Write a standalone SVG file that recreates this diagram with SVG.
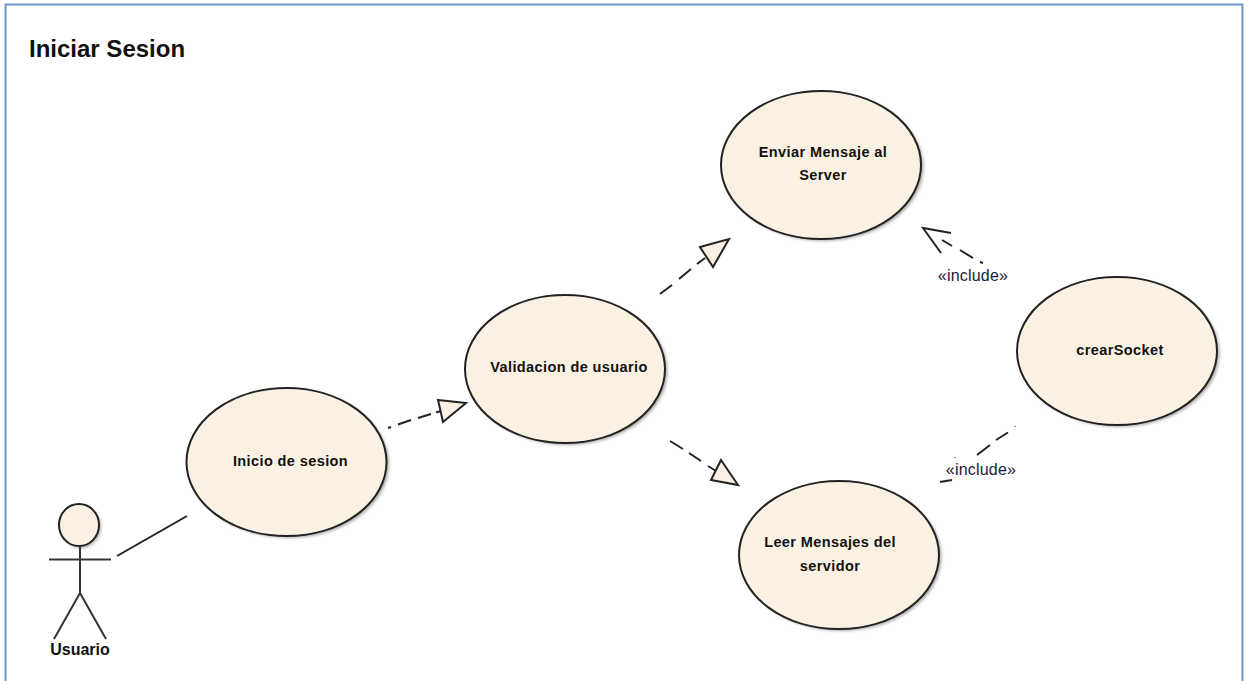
<svg xmlns="http://www.w3.org/2000/svg" width="1248" height="681" viewBox="0 0 1248 681">
<defs>
<filter id="sh" x="-10%" y="-10%" width="125%" height="125%"><feGaussianBlur stdDeviation="1.5"/></filter>
<style>
text{font-family:"Liberation Sans",Arial,sans-serif;fill:#111}
.u{fill:#fbf1e3;stroke:#222;stroke-width:2}
.s{fill:#aaa;filter:url(#sh)}
.l{font-size:14.5px;font-weight:bold;text-anchor:middle}
.i{font-size:16px;text-anchor:middle;fill:#1a1a3a}
.d{fill:none;stroke:#222;stroke-width:2.2;stroke-dasharray:16 11}
.c{fill:none;stroke:#222;stroke-width:2}
.h{fill:#fbf1e3;stroke:#222;stroke-width:2;stroke-linejoin:miter}
</style>
</defs>
<rect width="1248" height="681" fill="#fff"/>
<path d="M5.5 681V4.5H1242.5V681" fill="none" stroke="#6f97cc" stroke-width="2"/>
<text x="29" y="57" font-size="24" font-weight="bold">Iniciar Sesion</text>
<g id="connectors">
<path class="c" d="M117 556L187 516" stroke-width="2.6"/>
<path class="c" d="M388 428l3-1M398 424.500L411 420M418 418L431 414M436 412.500L441 411"/>
<path class="h" d="M438 400L466 403L443 422Z"/>
<path class="c" d="M660 294L672 285M679 279L691 269M697 264L705 258"/>
<path class="h" d="M700 247L729 239L713 267Z"/>
<path class="c" d="M670 441L683 449M689 453L701 461M708 466L716 471"/>
<path class="h" d="M721 460L738 485L711 480Z"/>
<path class="c" d="M942 240L952 246M960 250L973 258M980 262L983 263"/>
<path class="c" d="M951 233L923 228L941 253"/>
<path class="c" d="M1015 426L1015 426.500M1008 432.500L996 440M990 445L977 455M955 457L955 457.500M952 480L940 482"/>
<text class="i" x="973" y="281" letter-spacing="0.2">«include»</text>
<text class="i" x="981" y="475" letter-spacing="0.2">«include»</text>
</g>
<g id="actor-usuario">
<ellipse class="s" cx="81" cy="527" rx="20" ry="21"/>
<ellipse class="u" cx="79" cy="525" rx="20" ry="21"/>
<path d="M80 546V593M49 559.500H111M54 639L80 593L106 639" fill="none" stroke="#333" stroke-width="2"/>
<text x="80" y="655" font-size="16" font-weight="bold" text-anchor="middle">Usuario</text>
</g>
<g id="uc-inicio">
<ellipse class="s" cx="289" cy="464" rx="100" ry="74"/>
<ellipse class="u" cx="286.500" cy="462" rx="100" ry="74"/>
<text class="l" x="290.500" y="466" letter-spacing="0.4">Inicio de sesion</text>
</g>
<g id="uc-validacion">
<ellipse class="s" cx="567.500" cy="371" rx="100" ry="74"/>
<ellipse class="u" cx="565" cy="369" rx="100" ry="74"/>
<text class="l" x="569" y="372" letter-spacing="0.4">Validacion de usuario</text>
</g>
<g id="uc-enviar">
<ellipse class="s" cx="823.500" cy="167" rx="100" ry="74"/>
<ellipse class="u" cx="821" cy="165" rx="100" ry="74"/>
<text class="l" x="823" y="157" letter-spacing="0.4">Enviar Mensaje al</text>
<text class="l" x="823" y="180" letter-spacing="0.4">Server</text>
</g>
<g id="uc-crearsocket">
<ellipse class="s" cx="1119.500" cy="353" rx="100" ry="74"/>
<ellipse class="u" cx="1117" cy="351" rx="100" ry="74"/>
<text class="l" x="1120" y="355" letter-spacing="0.4">crearSocket</text>
</g>
<g id="uc-leer">
<ellipse class="s" cx="841.500" cy="557" rx="100" ry="74"/>
<ellipse class="u" cx="839" cy="555" rx="100" ry="74"/>
<text class="l" x="830" y="547" letter-spacing="0.4">Leer Mensajes del</text>
<text class="l" x="830" y="571" letter-spacing="0.4">servidor</text>
</g>
</svg>
